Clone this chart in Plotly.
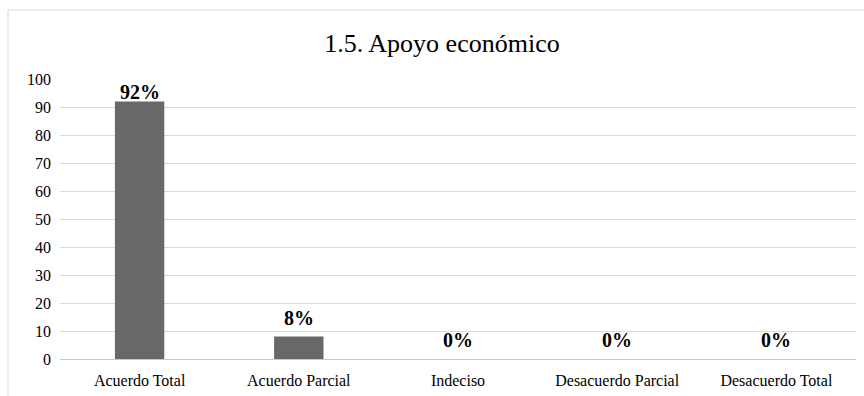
import plotly.graph_objects as go

categorias = ["Acuerdo Total", "Acuerdo Parcial", "Indeciso", "Desacuerdo Parcial", "Desacuerdo Total"]
porcentajes = [92, 8, 0, 0, 0]
etiquetas = ["92%", "8%", "0%", "0%", "0%"]
ticks_y = [0, 10, 20, 30, 40, 50, 60, 70, 80, 90, 100]

serif = "Liberation Serif"

fig = go.Figure(
    go.Bar(
        x=categorias,
        y=porcentajes,
        marker=dict(color="#686868", line=dict(width=0)),
        width=0.31,
        hoverinfo="x+y",
    )
)

# value labels above each bar; the tallest one sits flush on its bar
for cat, val, txt in zip(categorias, porcentajes, etiquetas):
    fig.add_annotation(
        x=cat, y=val, text=txt, showarrow=False,
        xref="x", yref="y", yanchor="bottom",
        yshift=-4 if val > 80 else 6,
        font=dict(family=serif, size=20, color="#000000", weight="bold"),
    )

fig.update_layout(
    width=864,
    height=396,
    margin=dict(l=60, r=8, t=79, b=37),
    paper_bgcolor="white",
    plot_bgcolor="white",
    showlegend=False,
    title=dict(
        text="1.5. Apoyo económico",
        font=dict(family=serif, size=26, color="#000000"),
        xref="container", x=442 / 864, xanchor="center",
        yref="container", y=1 - 43 / 396, yanchor="middle",
    ),
    xaxis=dict(
        showgrid=False,
        showline=False,
        ticks="",
        automargin=False,
        ticklabelstandoff=10,
        tickfont=dict(family=serif, size=16, color="#000000"),
        range=[-0.5, 4.5],
    ),
    yaxis=dict(
        range=[0, 100],
        tickvals=ticks_y,
        showgrid=True,
        gridcolor="#d9d9d9",
        gridwidth=1,
        zeroline=True,
        zerolinecolor="#c8c8c8",
        zerolinewidth=1,
        showline=False,
        ticks="",
        automargin=False,
        ticklabelstandoff=8,
        tickfont=dict(family=serif, size=16, color="#000000"),
    ),
    shapes=[
        dict(
            type="rect", xref="paper", yref="paper",
            x0=(8 - 60) / 796, x1=1.1, y0=-0.3, y1=1 + (79 - 10) / 280,
            line=dict(color="#d9d9d9", width=1), fillcolor="rgba(0,0,0,0)",
            layer="below",
        )
    ],
)

fig.write_html("out.html")
